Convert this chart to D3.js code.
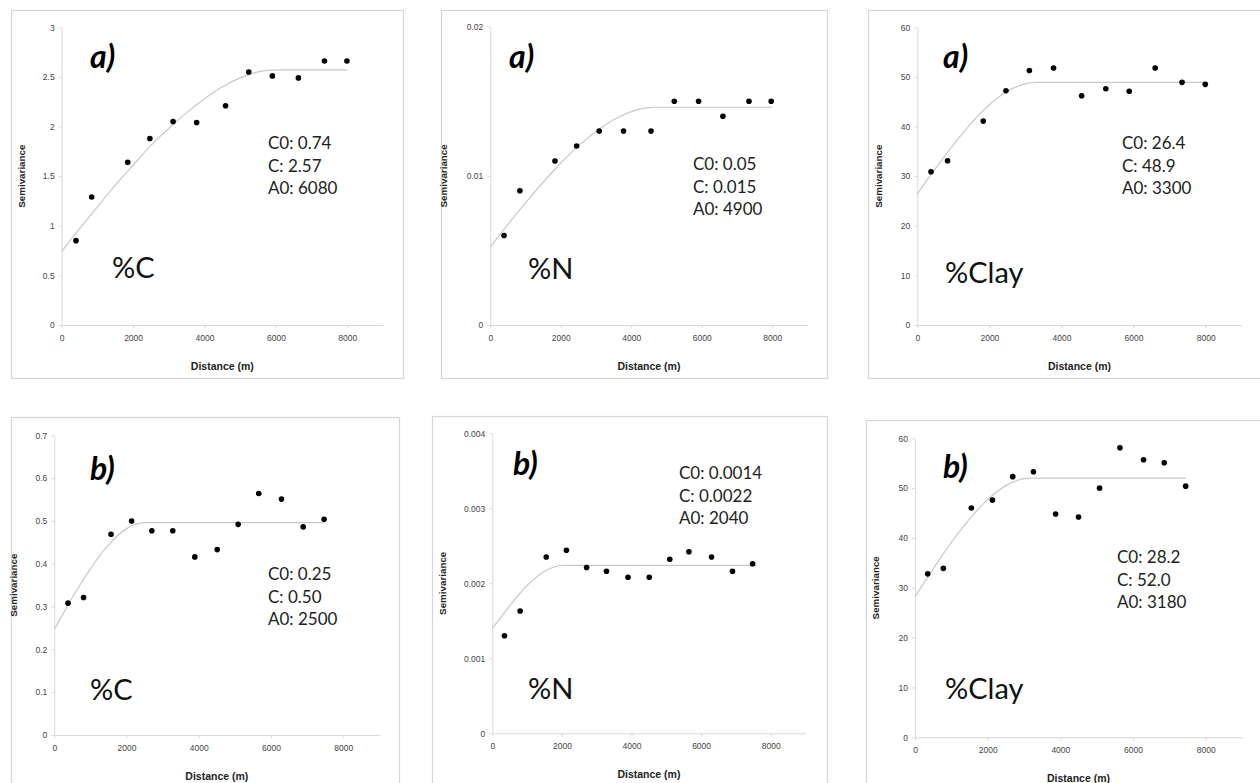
<!DOCTYPE html>
<html>
<head>
<meta charset="utf-8">
<script src="https://cdn.jsdelivr.net/npm/d3@7"></script>
<style>
  html, body { margin: 0; padding: 0; background: #fff; }
  svg { display: block; }
  .tick text { font-family: "Liberation Sans", Arial, sans-serif; font-size: 8.5px; fill: #444; }
</style>
</head>
<body>
<svg id="chart" width="1260" height="783"></svg>
<script>
// ---------- DATA ----------
const xTicks = [0, 2000, 4000, 6000, 8000];

// (a) %C
const lagCa = [400, 840, 1850, 2470, 3120, 3780, 4590, 5240, 5900, 6630, 7360, 7990];
const gammaCa = [0.85, 1.29, 1.64, 1.88, 2.05, 2.04, 2.21, 2.55, 2.51, 2.49, 2.66, 2.66];
const fitLagCa = [0, 500, 1000, 1500, 2000, 2500, 3000, 3500, 4000, 4500, 5000, 5500, 6000, 8000];
const fitGammaCa = [0.74, 0.97, 1.19, 1.41, 1.61, 1.81, 1.98, 2.14, 2.28, 2.40, 2.49, 2.55, 2.57, 2.57];
const yTicksCa = [0, 0.5, 1, 1.5, 2, 2.5, 3];
const paramsCa = ["C0: 0.74", "C: 2.57", "A0: 6080"];

// (a) %N
const lagNa = [390, 840, 1835, 2450, 3090, 3780, 4560, 5220, 5910, 6600, 7340, 7970];
const gammaNa = [0.0060, 0.0090, 0.0110, 0.0120, 0.0130, 0.0130, 0.0130, 0.0150, 0.0150, 0.0140, 0.0150, 0.0150];
const fitLagNa = [0, 500, 1000, 1500, 2000, 2500, 3000, 3500, 4000, 4500, 4700, 8000];
const fitGammaNa = [0.00525, 0.00674, 0.00819, 0.00957, 0.01086, 0.01201, 0.01298, 0.01376, 0.01431, 0.01458, 0.0146, 0.0146];
const yTicksNa = [0, 0.01, 0.02];
const paramsNa = ["C0: 0.05", "C: 0.015", "A0: 4900"];

// (a) %Clay
const lagClA = [380, 840, 1830, 2460, 3110, 3780, 4560, 5230, 5880, 6600, 7345, 7990];
const gammaClA = [30.9, 33.1, 41.1, 47.2, 51.3, 51.8, 46.2, 47.6, 47.1, 51.8, 48.9, 48.5];
const fitLagClA = [0, 500, 1000, 1500, 2000, 2500, 3000, 3300, 8000];
const fitGammaClA = [26.4, 31.5, 36.3, 40.7, 44.4, 47.1, 48.6, 48.9, 48.9];
const yTicksClA = [0, 10, 20, 30, 40, 50, 60];
const paramsClA = ["C0: 26.4", "C: 48.9", "A0: 3300"];

// (b) %C
const lagCb = [380, 810, 1570, 2140, 2700, 3280, 3890, 4510, 5090, 5660, 6290, 6890, 7470];
const gammaCb = [0.308, 0.321, 0.469, 0.500, 0.477, 0.477, 0.416, 0.433, 0.492, 0.564, 0.551, 0.486, 0.504];
const fitLagCb = [0, 250, 500, 1000, 1500, 2000, 2500, 7490];
const fitGammaCb = [0.247, 0.284, 0.321, 0.388, 0.444, 0.482, 0.496, 0.496];
const yTicksCb = [0, 0.1, 0.2, 0.3, 0.4, 0.5, 0.6, 0.7];
const paramsCb = ["C0: 0.25", "C: 0.50", "A0: 2500"];

// (b) %N
const lagNb = [350, 800, 1550, 2130, 2710, 3280, 3900, 4510, 5100, 5650, 6300, 6900, 7480];
const gammaNb = [0.00130, 0.00163, 0.00235, 0.00244, 0.00221, 0.00216, 0.00208, 0.00208, 0.00232, 0.00242, 0.00235, 0.00216, 0.00226];
const fitLagNb = [0, 250, 500, 1000, 1500, 2040, 7600];
const fitGammaNb = [0.00140, 0.00155, 0.00170, 0.00197, 0.00216, 0.00224, 0.00224];
const yTicksNb = [0, 0.001, 0.002, 0.003, 0.004];
const paramsNb = ["C0: 0.0014", "C: 0.0022", "A0: 2040"];

// (b) %Clay
const lagClB = [350, 780, 1550, 2130, 2690, 3260, 3870, 4500, 5080, 5640, 6290, 6860, 7450];
const gammaClB = [32.8, 33.9, 46.0, 47.6, 52.3, 53.3, 44.8, 44.2, 50.0, 58.1, 55.7, 55.1, 50.4];
const fitLagClB = [0, 500, 1000, 1500, 2000, 2500, 3000, 3180, 7460];
const fitGammaClB = [28.2, 33.8, 39.1, 43.8, 47.7, 50.5, 51.9, 52.0, 52.0];
const yTicksClB = [0, 10, 20, 30, 40, 50, 60];
const paramsClB = ["C0: 28.2", "C: 52.0", "A0: 3180"];

// ---------- LAYOUT ----------
const panels = [
  { frame: [11, 10, 403, 378], px: [61.7, 383], py: [325, 27.3], yMax: 3, lag: lagCa, gamma: gammaCa, fitLag: fitLagCa, fitGamma: fitGammaCa, yTicks: yTicksCa,
    tag: "a)", tagPos: [90, 68], params: paramsCa, parPos: [268, 149], varName: "%C", varPos: [112, 278], semX: 21 },
  { frame: [441, 10, 827, 378], px: [490.3, 807.5], py: [325, 26.7], yMax: 0.02, lag: lagNa, gamma: gammaNa, fitLag: fitLagNa, fitGamma: fitGammaNa, yTicks: yTicksNa,
    tag: "a)", tagPos: [509, 68], params: paramsNa, parPos: [693, 170], varName: "%N", varPos: [528, 279], semX: 443 },
  { frame: [868, 10, 1264, 378], px: [917.3, 1241.7], py: [325, 27.3], yMax: 60, lag: lagClA, gamma: gammaClA, fitLag: fitLagClA, fitGamma: fitGammaClA, yTicks: yTicksClA,
    tag: "a)", tagPos: [943, 68], params: paramsClA, parPos: [1122, 149], varName: "%Clay", varPos: [945, 283], semX: 878 },
  { frame: [11, 417, 399, 795], px: [54.3, 379.4], py: [735, 435.3], yMax: 0.7, lag: lagCb, gamma: gammaCb, fitLag: fitLagCb, fitGamma: fitGammaCb, yTicks: yTicksCb,
    tag: "b)", tagPos: [90, 480], params: paramsCb, parPos: [268, 580], varName: "%C", varPos: [90, 700], semX: 13.5 },
  { frame: [432, 416, 827, 795], px: [492.3, 805.5], py: [733.3, 433.3], yMax: 0.004, lag: lagNb, gamma: gammaNb, fitLag: fitLagNb, fitGamma: fitGammaNb, yTicks: yTicksNb,
    tag: "b)", tagPos: [513, 475], params: paramsNb, parPos: [679, 479], varName: "%N", varPos: [528, 699], semX: 442 },
  { frame: [866, 420, 1264, 795], px: [915, 1242], py: [737.3, 438.3], yMax: 60, lag: lagClB, gamma: gammaClB, fitLag: fitLagClB, fitGamma: fitGammaClB, yTicks: yTicksClB,
    tag: "b)", tagPos: [943, 478], params: paramsClB, parPos: [1117, 563], varName: "%Clay", varPos: [945, 699], semX: 875 }
];

const svg = d3.select("#chart");
const big = "Lato, 'Open Sans', sans-serif";
const ar = "'Liberation Sans', Arial, sans-serif";

panels.forEach(p => {
  const g = svg.append("g");
  const [fx0, fy0, fx1, fy1] = p.frame;
  g.append("rect").attr("x", fx0 + 0.5).attr("y", fy0 + 0.5)
    .attr("width", fx1 - fx0).attr("height", fy1 - fy0)
    .attr("fill", "#fff").attr("stroke", "#d6d6d6").attr("stroke-width", 1.2);

  const x = d3.scaleLinear().domain([0, 9000]).range(p.px);
  const y = d3.scaleLinear().domain([0, p.yMax]).range(p.py);

  const xAxis = g.append("g").attr("transform", `translate(0,${p.py[0]})`)
    .call(d3.axisBottom(x).tickValues(xTicks).tickSize(3).tickSizeOuter(0).tickPadding(7).tickFormat(d => String(d)));
  const yAxis = g.append("g").attr("transform", `translate(${p.px[0]},0)`)
    .call(d3.axisLeft(y).tickValues(p.yTicks).tickSize(3).tickSizeOuter(0).tickPadding(4).tickFormat(d => String(d)));
  [xAxis, yAxis].forEach(a => {
    a.select(".domain").attr("stroke", "#d9d9d9");
    a.selectAll(".tick line").attr("stroke", "#d9d9d9");
    a.selectAll(".tick text").style("font-size", "8.5px").style("fill", "#444");
  });

  // fitted model
  const fit = p.fitLag.map((d, i) => [d, p.fitGamma[i]]);
  g.append("path").datum(fit)
    .attr("fill", "none").attr("stroke", "#c8c8c8").attr("stroke-width", 1.2)
    .attr("d", d3.line().x(d => x(d[0])).y(d => y(d[1])).curve(d3.curveMonotoneX));

  // points
  g.selectAll("circle.pt").data(p.lag.map((d, i) => [d, p.gamma[i]])).enter()
    .append("circle").attr("class", "pt")
    .attr("cx", d => x(d[0])).attr("cy", d => y(d[1])).attr("r", 2.8).attr("fill", "#000");

  // axis titles
  g.append("text").attr("x", (p.px[0] + p.px[1]) / 2).attr("y", p.py[0] + 45)
    .attr("text-anchor", "middle").style("font-family", ar).style("font-weight", "bold")
    .style("font-size", "10.5px").style("fill", "#222").text("Distance (m)");
  const cy = (p.py[0] + p.py[1]) / 2;
  g.append("text").attr("transform", `translate(${p.semX + 3.5},${cy}) rotate(-90)`)
    .attr("text-anchor", "middle").style("font-family", ar).style("font-weight", "bold")
    .style("font-size", "9.8px").style("fill", "#222").text("Semivariance");

  // panel tag
  g.append("text").attr("x", p.tagPos[0]).attr("y", p.tagPos[1])
    .style("font-family", big).style("font-weight", "bold").style("font-style", "italic")
    .style("font-size", "32px").style("fill", "#000").text(p.tag);

  // parameters
  p.params.forEach((t, i) => {
    g.append("text").attr("x", p.parPos[0]).attr("y", p.parPos[1] + i * 22.7)
      .style("font-family", big).style("font-size", "17px").style("fill", "#222").text(t);
  });

  // variable
  g.append("text").attr("x", p.varPos[0]).attr("y", p.varPos[1])
    .style("font-family", big).style("font-size", "29px").style("fill", "#111").text(p.varName);
});
</script>
</body>
</html>
